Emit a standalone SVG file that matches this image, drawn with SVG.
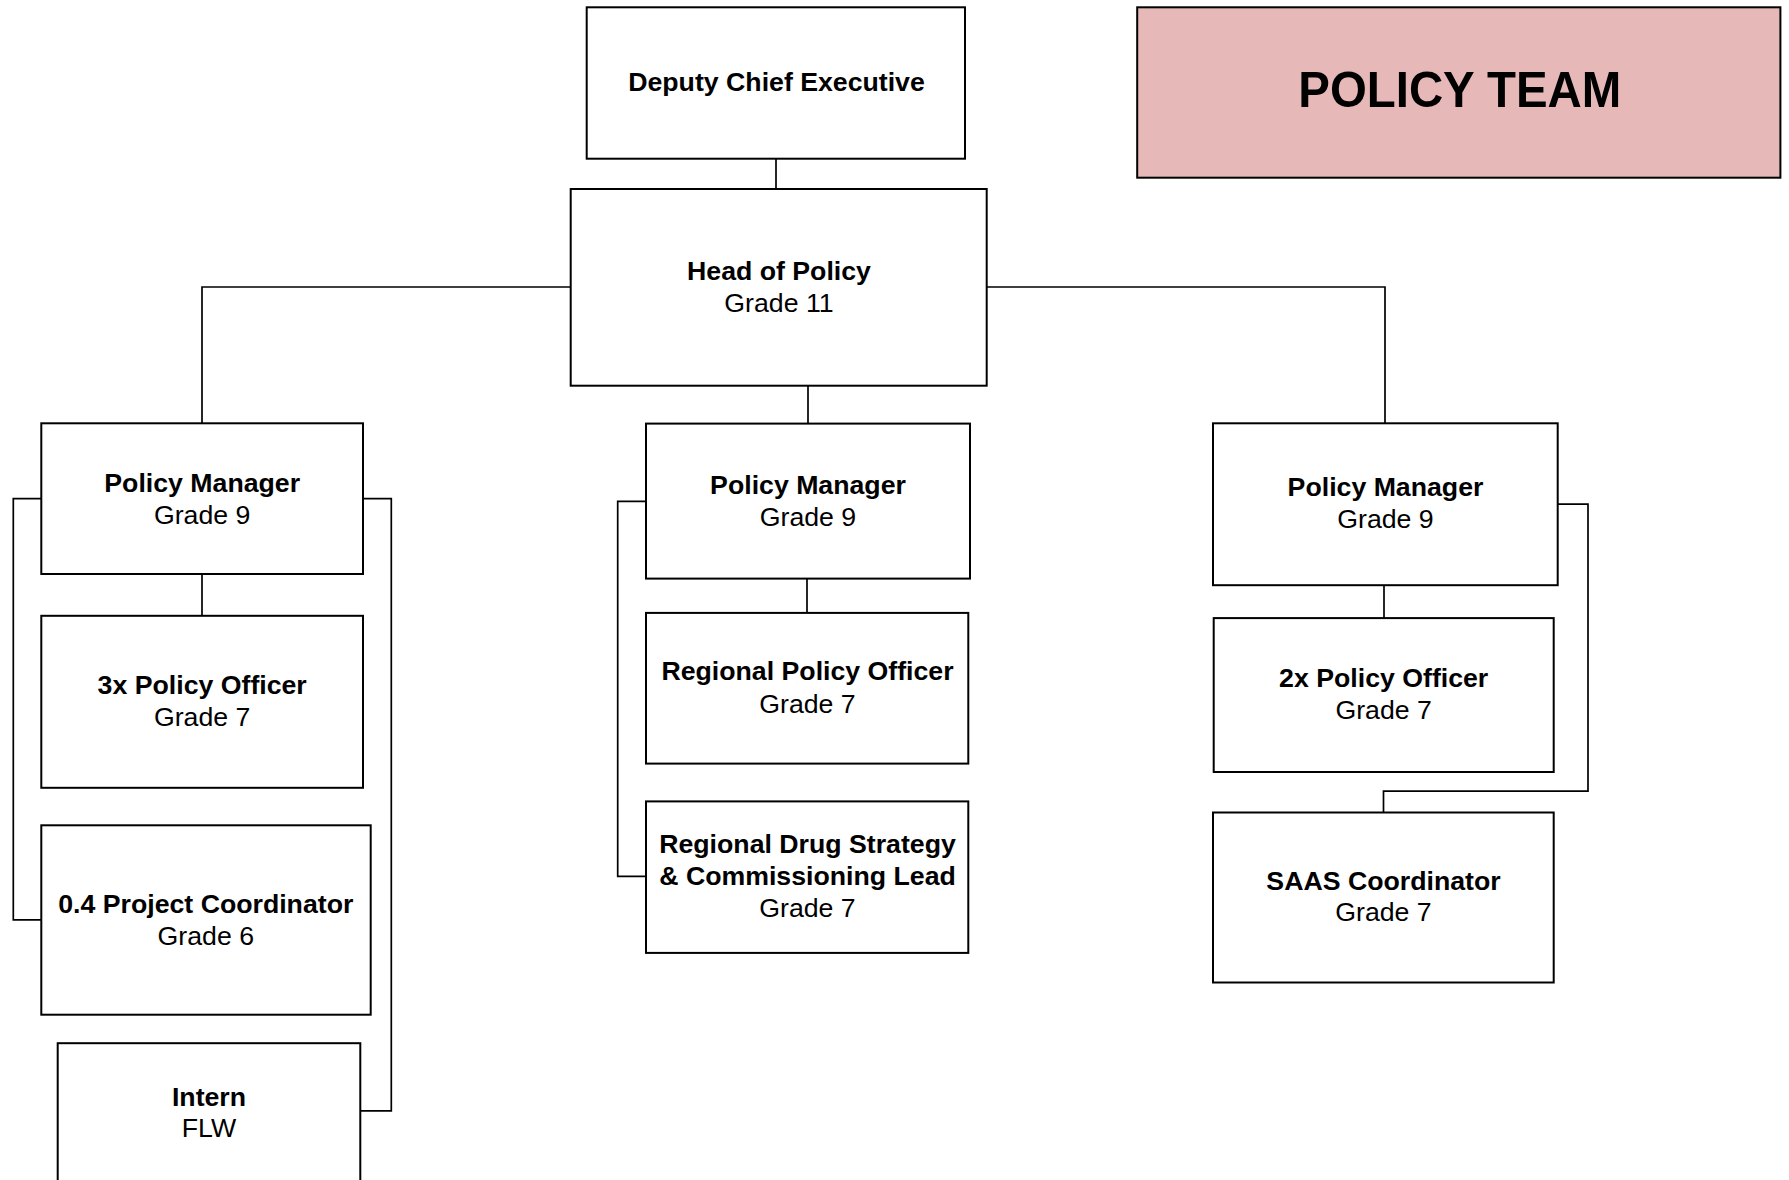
<svg xmlns="http://www.w3.org/2000/svg" width="1789" height="1180" viewBox="0 0 1789 1180">
<style>
  .box { fill: #FFFFFF; stroke: #000000; stroke-width: 2; }
  .team { fill: #E6B8B7; stroke: #000000; stroke-width: 2; }
  .b { font-family: "Liberation Sans", Arial, sans-serif; font-size: 26.7px; font-weight: bold; fill: #000000; text-anchor: middle; }
  .r { font-family: "Liberation Sans", Arial, sans-serif; font-size: 26.7px; fill: #000000; text-anchor: middle; }
  .title { font-family: "Liberation Sans", Arial, sans-serif; font-size: 50px; font-weight: bold; fill: #000000; text-anchor: middle; }
  .conn { fill: none; stroke: #000000; stroke-width: 1.7; }
</style>
<rect width="1789" height="1180" fill="#FFFFFF"/>
<g id="connectors">
  <path class="conn" d="M776,158.7 V189"/>
  <path class="conn" d="M570.7,287 H202 V423.3"/>
  <path class="conn" d="M986.7,287 H1385 V423.3"/>
  <path class="conn" d="M808,385.7 V423.6"/>
  <path class="conn" d="M202,574 V615.8"/>
  <path class="conn" d="M41.3,498.7 H13.3 V919.8 H41.3"/>
  <path class="conn" d="M363,498.7 H391.3 V1110.8 H360.3"/>
  <path class="conn" d="M807,578.6 V612.9"/>
  <path class="conn" d="M646,501.4 H617.7 V876.4 H646"/>
  <path class="conn" d="M1384,585.2 V618.1"/>
  <path class="conn" d="M1557.7,504.1 H1588 V791.1 H1383.5 V812.5"/>
</g>
<g id="policy-team">
  <rect class="team" x="1137.2" y="7.3" width="643.2" height="170.4"/>
  <text class="title" x="1459.8" y="107.3" textLength="323" lengthAdjust="spacingAndGlyphs">POLICY TEAM</text>
</g>
<g id="deputy-chief-executive">
  <rect class="box" x="586.7" y="7.3" width="378.3" height="151.4"/>
  <text class="b" x="776.5" y="90.7">Deputy Chief Executive</text>
</g>
<g id="head-of-policy">
  <rect class="box" x="570.7" y="189" width="416" height="196.7"/>
  <text class="b" x="779" y="280">Head of Policy</text>
  <text class="r" x="779" y="311.7">Grade 11</text>
</g>
<g id="policy-manager-left">
  <rect class="box" x="41.3" y="423.3" width="321.7" height="150.7"/>
  <text class="b" x="202.2" y="491.7">Policy Manager</text>
  <text class="r" x="202.2" y="524">Grade 9</text>
</g>
<g id="policy-officer-3x">
  <rect class="box" x="41.3" y="615.8" width="321.7" height="172"/>
  <text class="b" x="202.2" y="694.4">3x Policy Officer</text>
  <text class="r" x="202.2" y="725.5">Grade 7</text>
</g>
<g id="project-coordinator">
  <rect class="box" x="41.3" y="825.3" width="329.4" height="189.4"/>
  <text class="b" x="205.8" y="913">0.4 Project Coordinator</text>
  <text class="r" x="205.8" y="944.7">Grade 6</text>
</g>
<g id="intern">
  <rect class="box" x="57.7" y="1043.2" width="302.6" height="140"/>
  <text class="b" x="209" y="1105.7">Intern</text>
  <text class="r" x="209" y="1136.5">FLW</text>
</g>
<g id="policy-manager-middle">
  <rect class="box" x="646" y="423.6" width="324" height="155"/>
  <text class="b" x="808" y="493.6">Policy Manager</text>
  <text class="r" x="808" y="525.7">Grade 9</text>
</g>
<g id="regional-policy-officer">
  <rect class="box" x="646" y="612.9" width="322.3" height="150.7"/>
  <text class="b" x="807.5" y="680.4">Regional Policy Officer</text>
  <text class="r" x="807.5" y="712.5">Grade 7</text>
</g>
<g id="regional-drug-strategy">
  <rect class="box" x="646" y="801.4" width="322.3" height="151.5"/>
  <text class="b" x="807.5" y="852.9">Regional Drug Strategy</text>
  <text class="b" x="807.5" y="885">&amp; Commissioning Lead</text>
  <text class="r" x="807.5" y="917">Grade 7</text>
</g>
<g id="policy-manager-right">
  <rect class="box" x="1213" y="423.3" width="344.7" height="161.9"/>
  <text class="b" x="1385.5" y="496.4">Policy Manager</text>
  <text class="r" x="1385.5" y="528.2">Grade 9</text>
</g>
<g id="policy-officer-2x">
  <rect class="box" x="1213.7" y="618.1" width="340" height="153.9"/>
  <text class="b" x="1383.7" y="687">2x Policy Officer</text>
  <text class="r" x="1383.7" y="718.8">Grade 7</text>
</g>
<g id="saas-coordinator">
  <rect class="box" x="1213" y="812.5" width="340.7" height="170"/>
  <text class="b" x="1383.5" y="889.9">SAAS Coordinator</text>
  <text class="r" x="1383.5" y="921.2">Grade 7</text>
</g>
</svg>
